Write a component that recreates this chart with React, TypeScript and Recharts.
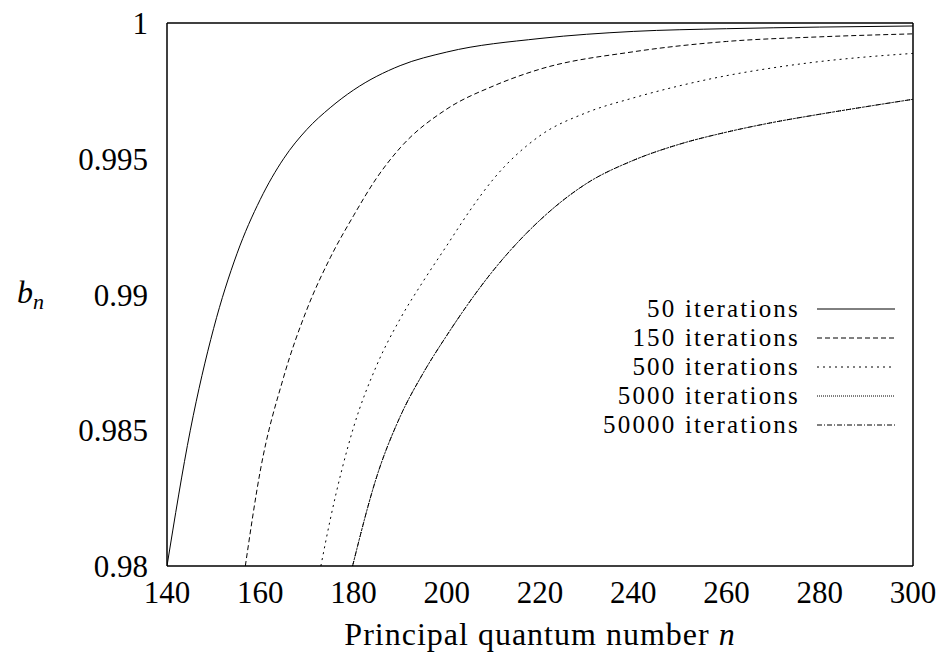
import React from "react";
import { LineChart, Line, XAxis, YAxis, Legend } from "recharts";

// n values and b_n values
const n50 = [140, 145, 150, 155, 160, 165, 170, 175, 180, 190, 200, 220, 240, 260, 280, 300];
const b50 = [0.98, 0.985, 0.98875, 0.9915, 0.9935, 0.995, 0.99608, 0.99688, 0.99753, 0.99843, 0.99893, 0.99943, 0.99969, 0.99979, 0.99985, 0.99989];

const n150 = [156.8, 160, 165, 170, 175, 180, 185, 190, 200, 210, 220, 240, 260, 280, 300];
const b150 = [0.98, 0.9835, 0.98695, 0.98945, 0.99135, 0.9929, 0.9943, 0.9954, 0.99683, 0.99768, 0.9983, 0.99894, 0.99932, 0.99949, 0.9996];

const n500 = [173, 175, 180, 185, 190, 195, 200, 205, 210, 220, 230, 240, 250, 260, 270, 280, 290, 300];
const b500 = [0.98, 0.9817, 0.9851, 0.9874, 0.9891, 0.9905, 0.9918, 0.9931, 0.99425, 0.99585, 0.9967, 0.99724, 0.99769, 0.99806, 0.99835, 0.99858, 0.99875, 0.99888];

const n5000 = [179.8, 185, 190, 195, 200, 210, 220, 230, 240, 250, 260, 270, 280, 290, 300];
const b5000 = [0.98, 0.9833, 0.9855, 0.98712, 0.98849, 0.99089, 0.99274, 0.99409, 0.99494, 0.99554, 0.99598, 0.99634, 0.99664, 0.99692, 0.99719];

const n50000 = [179.8, 185, 190, 195, 200, 210, 220, 230, 240, 250, 260, 270, 280, 290, 300];
const b50000 = [0.98, 0.9833, 0.9855, 0.98712, 0.98849, 0.99089, 0.99274, 0.99409, 0.99494, 0.99554, 0.99598, 0.99634, 0.99664, 0.99692, 0.99719];

const xTicks = [140, 160, 180, 200, 220, 240, 260, 280, 300];
const yTicks = [0.98, 0.985, 0.99, 0.995, 1];

const seriesNames = ["50 iterations", "150 iterations", "500 iterations", "5000 iterations", "50000 iterations"];

const toData = (ns: number[], bs: number[]) => ns.map((n, i) => ({ n, b: bs[i] }));

const series = [
  { name: seriesNames[0], data: toData(n50, b50), dash: undefined as string | undefined },
  { name: seriesNames[1], data: toData(n150, b150), dash: "5 3" },
  { name: seriesNames[2], data: toData(n500, b500), dash: "2 4" },
  { name: seriesNames[3], data: toData(n5000, b5000), dash: "1 1" },
  { name: seriesNames[4], data: toData(n50000, b50000), dash: "5 2 1 2" },
];

const FONT = "Liberation Serif, Times New Roman, DejaVu Serif, serif";

const LegendContent = (props: any) => {
  const payload = [...(props.payload || [])].sort(
    (a: any, b: any) => seriesNames.indexOf(a.value) - seriesNames.indexOf(b.value)
  );
  return (
    <div style={{ fontFamily: FONT, fontSize: 25, color: "#000", letterSpacing: 2.2 }}>
      {payload.map((p: any) => {
        const s = series.find((x) => x.name === p.value);
        return (
          <div
            key={p.value}
            style={{ display: "flex", alignItems: "center", justifyContent: "flex-end", height: 29, lineHeight: "29px" }}
          >
            <span>{p.value}</span>
            <svg width={78} height={10} style={{ marginLeft: 17 }}>
              <line x1={0} y1={5} x2={78} y2={5} stroke="#000" strokeWidth={1} strokeDasharray={s ? s.dash : undefined} />
            </svg>
          </div>
        );
      })}
    </div>
  );
};

const XLabel = (props: any) => {
  const vb = props.viewBox || {};
  return (
    <text
      x={vb.x + vb.width / 2}
      y={vb.y + 79}
      textAnchor="middle"
      fontFamily={FONT}
      fontSize={32}
      letterSpacing={1}
      fill="#000"
    >
      Principal quantum number <tspan fontStyle="italic">n</tspan>
    </text>
  );
};

const YLabel = (props: any) => {
  const vb = props.viewBox || {};
  return (
    <text x={vb.x + 17} y={vb.y + vb.height / 2 + 8} fontFamily={FONT} fontSize={32} fill="#000">
      <tspan fontStyle="italic">b</tspan>
      <tspan fontStyle="italic" fontSize={22} dy={6}>n</tspan>
    </text>
  );
};

export default function App() {
  return (
    <div style={{ position: "absolute", left: 0, top: 0, width: 942, height: 659, background: "#fff" }}>
      <LineChart width={942} height={659} margin={{ top: 23, right: 29, bottom: 0, left: 0 }}>
        <XAxis
          xAxisId="main"
          dataKey="n"
          type="number"
          domain={[140, 300]}
          ticks={xTicks}
          orientation="bottom"
          height={93}
          tickLine={false}
          tickSize={0}
          tickMargin={15}
          axisLine={{ stroke: "#000", strokeWidth: 1.5 }}
          tick={{ fontFamily: FONT, fontSize: 31, fill: "#000" }}
          label={<XLabel />}
          allowDataOverflow
        />
        <XAxis
          xAxisId="bottomTicks"
          dataKey="n"
          type="number"
          domain={[140, 300]}
          ticks={xTicks}
          orientation="bottom"
          mirror
          tick={false}
          tickSize={8}
          axisLine={false}
          tickLine={{ stroke: "#000", strokeWidth: 1.2 }}
        />
        <XAxis
          xAxisId="top"
          dataKey="n"
          type="number"
          domain={[140, 300]}
          ticks={xTicks}
          orientation="top"
          mirror
          tick={false}
          tickSize={8}
          axisLine={{ stroke: "#000", strokeWidth: 1.5 }}
          tickLine={{ stroke: "#000", strokeWidth: 1.2 }}
        />
        <YAxis
          yAxisId="main"
          type="number"
          domain={[0.98, 1]}
          ticks={yTicks}
          width={167}
          tickLine={false}
          tickSize={0}
          tickMargin={19}
          axisLine={{ stroke: "#000", strokeWidth: 1.5 }}
          tick={{ fontFamily: FONT, fontSize: 31, fill: "#000" }}
          tickFormatter={(v: number) => String(v)}
          label={<YLabel />}
          allowDataOverflow
        />
        <YAxis
          yAxisId="leftTicks"
          type="number"
          domain={[0.98, 1]}
          ticks={yTicks}
          orientation="left"
          mirror
          tick={false}
          tickSize={8}
          axisLine={false}
          tickLine={{ stroke: "#000", strokeWidth: 1.2 }}
        />
        <YAxis
          yAxisId="right"
          type="number"
          domain={[0.98, 1]}
          ticks={yTicks}
          orientation="right"
          mirror
          tick={false}
          tickSize={8}
          axisLine={{ stroke: "#000", strokeWidth: 1.5 }}
          tickLine={{ stroke: "#000", strokeWidth: 1.2 }}
        />
        {series.map((s) => (
          <Line
            key={s.name}
            xAxisId="main"
            yAxisId="main"
            name={s.name}
            data={s.data}
            dataKey="b"
            type="monotone"
            stroke="#000"
            strokeWidth={1}
            strokeDasharray={s.dash}
            dot={false}
            activeDot={false}
            isAnimationActive={false}
          />
        ))}
        <Legend
          layout="vertical"
          align="center"
          verticalAlign="middle"
          content={<LegendContent />}
          wrapperStyle={{ left: 520, top: 294, width: 375, right: "auto", bottom: "auto" }}
        />
      </LineChart>
    </div>
  );
}
